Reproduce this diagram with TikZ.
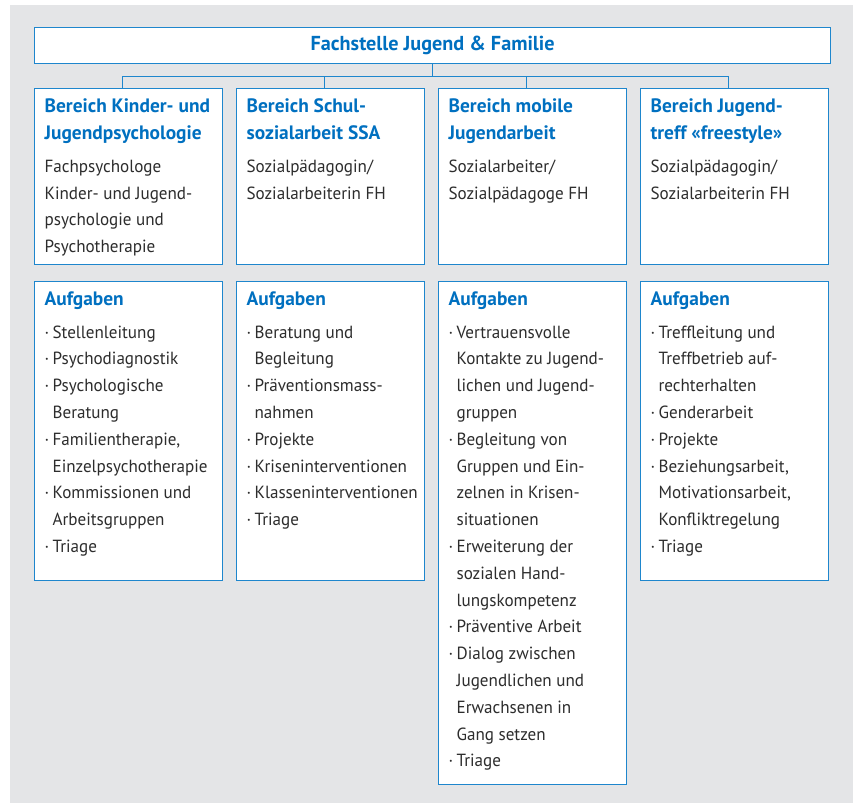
\documentclass[tikz,border=0pt]{standalone}
\usepackage{fontspec}
\setmainfont[UprightFeatures={FakeStretch=0.97}]{PT Sans}
\usetikzlibrary{calc}
\definecolor{fjblue}{RGB}{0,112,192}
\definecolor{fjline}{RGB}{30,134,205}
\definecolor{fjgrey}{RGB}{228,229,231}
\definecolor{fjtext}{RGB}{45,45,45}
\tikzset{
  box/.style={draw=fjline, line width=1.3pt, fill=white, inner sep=10pt, anchor=north west},
  verb/.style={draw=fjline, line width=1.3pt}
}
% Titel, Aufzaehlungspunkt und Inhalt eines Feldes
\newcommand{\kopf}[1]{{\fontsize{19.4}{27}\selectfont\bfseries\color{fjblue}#1\par}\vspace{6pt}}
\newcommand{\punkt}[1]{\hangindent=8pt\hangafter=1\noindent\makebox[8pt][l]{·}#1\par}
\newcommand{\feld}[2]{\parbox[c][#1][t]{168pt}{\parindent=0pt\rightskip=0pt plus 1fil
  \fontsize{17.6}{26.8}\selectfont\color{fjtext}#2}}
\begin{document}
\begin{tikzpicture}[x=1pt,y=-1pt]
\useasboundingbox (0,0) rectangle (859,803);
\fill[fjgrey] (10,5) rectangle (853,803);

\node[box, inner sep=0pt, minimum width=796pt, minimum height=36pt,
  font=\fontsize{20.2}{24}\selectfont\bfseries, text=fjblue] (top) at (34,27)
  {Fachstelle Jugend \& Familie};

% Bereiche
\node[box] (k1) at (34,88) {\feld{156pt}{\kopf{Bereich Kinder- und\\Jugendpsychologie}
  Fachpsychologe\\Kinder- und Jugend-\\psychologie und\\Psychotherapie}};
\node[box] (k2) at (236,88) {\feld{156pt}{\kopf{Bereich Schul-\\sozialarbeit SSA}
  Sozialpädagogin/\\Sozialarbeiterin FH}};
\node[box] (k3) at (438,88) {\feld{156pt}{\kopf{Bereich mobile\\Jugendarbeit}
  Sozialarbeiter/\\Sozialpädagoge FH}};
\node[box] (k4) at (640,88) {\feld{156pt}{\kopf{Bereich Jugend-\\treff «freestyle»}
  Sozialpädagogin/\\Sozialarbeiterin FH}};

% Aufgaben
\node[box] (a1) at (34,281) {\feld{279pt}{\kopf{Aufgaben}
  \punkt{Stellenleitung}
  \punkt{Psychodiagnostik}
  \punkt{Psychologische\\Beratung}
  \punkt{Familientherapie,\\Einzelpsychotherapie}
  \punkt{Kommissionen und\\Arbeitsgruppen}
  \punkt{Triage}}};
\node[box] (a2) at (236,281) {\feld{279pt}{\kopf{Aufgaben}
  \punkt{Beratung und\\Begleitung}
  \punkt{Präventionsmass-\\nahmen}
  \punkt{Projekte}
  \punkt{Kriseninterventionen}
  \punkt{Klasseninterventionen}
  \punkt{Triage}}};
\node[box] (a3) at (438,281) {\feld{483pt}{\kopf{Aufgaben}
  \punkt{Vertrauensvolle\\Kontakte zu Jugend-\\lichen und Jugend-\\gruppen}
  \punkt{Begleitung von\\Gruppen und Ein-\\zelnen in Krisen-\\situationen}
  \punkt{Erweiterung der\\sozialen Hand-\\lungskompetenz}
  \punkt{Präventive Arbeit}
  \punkt{Dialog zwischen\\Jugendlichen und\\Erwachsenen in\\Gang setzen}
  \punkt{Triage}}};
\node[box] (a4) at (640,281) {\feld{279pt}{\kopf{Aufgaben}
  \punkt{Treffleitung und\\Treffbetrieb auf-\\rechterhalten}
  \punkt{Genderarbeit}
  \punkt{Projekte}
  \punkt{Beziehungsarbeit,\\Motivationsarbeit,\\Konfliktregelung}
  \punkt{Triage}}};

% Verbindungen
\coordinate (bus) at ($(top.south)+(0,12)$);
\draw[verb] (top.south) -- (bus);
\foreach \n in {k1,k2,k3,k4}
  \draw[verb] ([xshift=-6pt]\n.north) |- (bus);
\end{tikzpicture}
\end{document}
